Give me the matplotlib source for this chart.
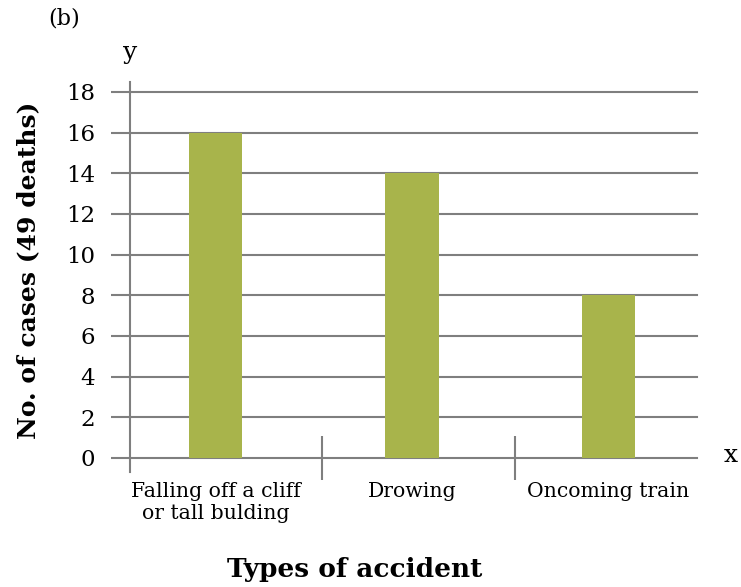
import matplotlib
matplotlib.use('Agg')
import matplotlib.pyplot as plt

# accident types and number of cases
categories = ['Falling off a cliff\nor tall bulding', 'Drowing', 'Oncoming train']
cases = [16, 14, 8]
y_ticks = [0, 2, 4, 6, 8, 10, 12, 14, 16, 18]

BAR = '#a8b44b'
GRID = '#7f7f7f'
SERIF = ['DejaVu Serif']

fig = plt.figure(figsize=(7.41, 5.87), dpi=100)
ax = fig.add_axes([130 / 741, 129 / 587, 567 / 741, 366 / 587])

x = list(range(len(categories)))
ax.bar(x, cases, width=0.27, color=BAR, zorder=3)

ax.set_xlim(-0.435, 2.45)
ax.set_ylim(0, 18)

# horizontal grid, ticks sticking out to the left
ax.set_yticks(y_ticks)
ax.yaxis.grid(True, color=GRID, linewidth=1.5, zorder=1)
for gl in ax.get_ygridlines():
    gl.set_clip_on(False)
ax.tick_params(axis='y', direction='out', length=14, width=1.5, color=GRID,
               pad=11, labelsize=16.5)
for lbl in ax.get_yticklabels():
    lbl.set_family(SERIF)

# category labels under the bars, separator ticks between categories
ax.set_xticks(x)
ax.set_xticklabels(categories, family=SERIF, fontsize=14.7, linespacing=1.25)
ax.tick_params(axis='x', which='major', length=0, pad=17)
ax.set_xticks([0.542, 1.524], minor=True)
ax.tick_params(axis='x', which='minor', direction='inout', length=32,
               width=1.5, color=GRID)

for s in ['top', 'right', 'bottom', 'left']:
    ax.spines[s].set_visible(False)

# vertical axis line, running a bit past both ends
ax.plot([0, 0], [-0.038, 1.027], transform=ax.transAxes, color=GRID,
        linewidth=1.5, clip_on=False, zorder=4)

fig.text(48 / 741, 1 - 18 / 587, '(b)', family=SERIF, fontsize=16,
         ha='left', va='center')
fig.text(130 / 741, 1 - 52 / 587, 'y', family=SERIF, fontsize=18,
         ha='center', va='center')
fig.text(731 / 741, 1 - 455 / 587, 'x', family=SERIF, fontsize=18,
         ha='center', va='center')

fig.text(28 / 741, 1 - 270 / 587, 'No. of cases (49 deaths)',
         family=SERIF, fontweight='bold', fontsize=18,
         rotation=90, ha='center', va='center')
fig.text(355 / 741, 1 - 570 / 587, 'Types of accident',
         family=SERIF, fontweight='bold', fontsize=19,
         ha='center', va='center')

fig.savefig('out.png', dpi=100, facecolor='white')
